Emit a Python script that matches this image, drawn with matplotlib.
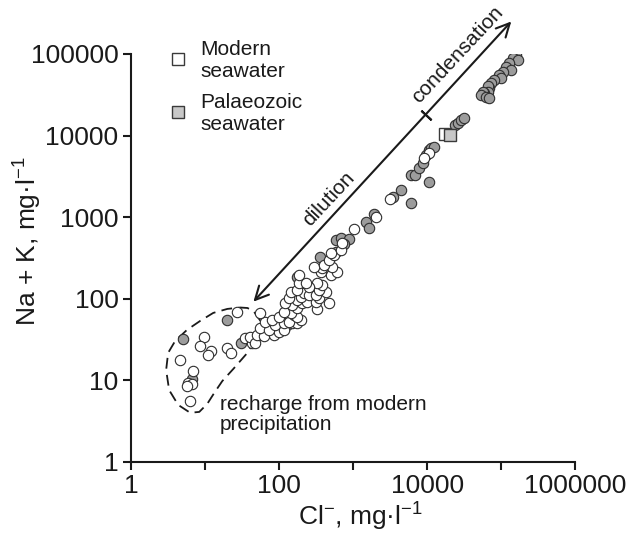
import matplotlib
matplotlib.use('Agg')
import matplotlib.pyplot as plt
from matplotlib.ticker import NullLocator

plt.rcParams['font.family'] = 'Liberation Sans'
plt.rcParams['mathtext.fontset'] = 'custom'
plt.rcParams['mathtext.rm'] = 'Liberation Sans'
plt.rcParams['mathtext.it'] = 'Liberation Sans:italic'

# white circles (Cl, Na+K in mg/l)
white_cl = [27.3, 9.75, 8.6, 12.1, 11, 4.6, 20, 22.3, 6.9, 5.9, 6.6, 5.65, 6.3,
            35, 43, 41, 53, 65.5, 110, 72.5, 129, 150, 176, 48, 50.5, 62, 56, 85,
            99, 116, 72.5, 89, 116, 135, 195, 158, 65.5, 80.7, 56, 99, 176, 143,
            116, 328, 176, 150, 122, 205, 240, 311, 345, 471, 176, 135, 195, 216,
            143, 253, 311, 425, 345, 176, 384, 328, 253, 185, 228, 185,
            497, 364, 600, 524, 384, 295, 403, 471, 551, 497, 679, 716, 1030,
            2020, 3160, 10700, 9160]
white_nak = [69, 34, 26, 22.9, 20.5, 17.8, 25, 21.7, 13, 9.3, 8.9, 8.5, 5.6,
             32.8, 29, 34.3, 36, 37.8, 43.5, 48, 48, 50, 50, 28.5, 36, 35, 43.5, 36,
             39.5, 41.5, 41.5, 48, 50, 52, 55, 63, 52, 55, 66, 60, 60, 66,
             69.5, 74, 77, 84, 88, 88, 92, 92, 101, 88, 97, 101, 106, 117,
             122, 111, 111, 122, 128, 128, 148, 155, 141, 155, 155, 196,
             196, 215, 215, 243, 236, 247, 260, 299, 344, 361, 396, 479, 716,
             1010, 1660, 6070, 5270]

# grey circles
grey_cl = [20, 5.07, 6.7, 31, 172, 356, 581, 581, 679, 880, 760, 1480, 1640, 1920,
           3410, 4420, 6030, 10700, 6030, 6830, 7820, 8690, 9640, 10700, 11250,
           12500, 23800, 25900, 28700, 31800, 159700, 144000, 168000, 129000,
           117000, 137000, 105000, 94800, 100000, 81100, 73100, 69400, 66000,
           66000, 59400, 56500, 53600, 62600, 69400]
grey_nak = [55, 32.2, 10.4, 28.5, 187, 328, 378, 526, 551, 536, 470, 881, 731, 1090,
            1780, 2150, 1510, 2720, 3300, 3250, 3970, 4660, 5780, 6660, 6980,
            7310, 13500, 14400, 15500, 16300, 97200, 88500, 84400, 76900,
            69900, 63700, 60700, 55300, 50400, 48000, 43800, 38000, 40300,
            34500, 33000, 34500, 31500, 30000, 28700]

# seawater squares: modern, palaeozoic
sea_cl = [17400, 20400]
sea_nak = [10300, 10100]
sea_labels = ['Modern\nseawater', 'Palaeozoic\nseawater']
sea_colors = ['white', '#c8c8c8']

# outline of the recharge field
env_cl = [56, 45, 37.3, 30, 20, 12.9, 8.6, 5.7, 3.95, 3.17, 2.98, 3.27, 4.33, 6.3,
          8.35, 10.7, 13.3, 17.1, 24.1, 37.3, 47.9, 56, 56]
env_nak = [53.5, 71, 77, 78, 75, 67, 53.5, 41.5, 30.4, 21.7, 13.4, 7.6, 5.0, 4.0,
           4.1, 5.14, 7.0, 9.8, 13.8, 21.7, 31.3, 41.5, 53.5]

arrow_start = (45, 92)
arrow_end = (137000, 250000)
arrow_mark = (9640, 17900)

fig = plt.figure(figsize=(6.3, 5.34), dpi=100)
ax = fig.add_axes([0.208, 0.135, 0.705, 0.764])
ax.set_xscale('log')
ax.set_yscale('log')
ax.set_xlim(1, 1e6)
ax.set_ylim(1, 1e5)

ax.plot(env_cl, env_nak, color='#1a1a1a', lw=1.3, ls=(0, (6, 3.5)), zorder=1)

ax.scatter(grey_cl, grey_nak, s=56, c='#9c9c9c', edgecolors='#2e2e2e', linewidths=0.8, zorder=3)
ax.scatter(white_cl, white_nak, s=56, c='white', edgecolors='#2e2e2e', linewidths=0.8, zorder=4)
for c, n, col in zip(sea_cl, sea_nak, sea_colors):
    ax.plot(c, n, marker='s', ms=8.6, mfc=col, mec='#3a3a3a', mew=1.0, zorder=5)

ax.annotate('', xy=arrow_end, xytext=arrow_start, annotation_clip=False,
            arrowprops=dict(arrowstyle='<->,head_length=0.48,head_width=0.24',
                            mutation_scale=20, lw=1.5, color='#1a1a1a',
                            shrinkA=0, shrinkB=0))
ax.plot(*arrow_mark, marker=(2, 2, 47), ms=10, mew=1.5, color='#1a1a1a', clip_on=False)
ax.text(26100, 97200, 'condensation', rotation=47, rotation_mode='anchor',
        ha='center', va='center', fontsize=15, color='#1a1a1a')
ax.text(467, 1670, 'dilution', rotation=47, rotation_mode='anchor',
        ha='center', va='center', fontsize=15, color='#1a1a1a')
ax.text(16, 6.6, 'recharge from modern\nprecipitation', ha='left', va='top',
        fontsize=15, linespacing=1.05, color='#1a1a1a')

# legend
leg_y = [0.988, 0.858]
for yy, lab, col in zip(leg_y, sea_labels, sea_colors):
    ax.plot(0.106, yy, marker='s', ms=8.6, mfc=col, mec='#3a3a3a', mew=1.0,
            transform=ax.transAxes, clip_on=False)
    ax.text(0.156, yy - 0.003, lab, transform=ax.transAxes, fontsize=15,
            ha='left', va='center', color='#1a1a1a')

ax.set_xticks([1, 10, 100, 1e3, 1e4, 1e5, 1e6])
ax.set_xticklabels(['1', '', '100', '', '10000', '', '1000000'])
ax.set_yticks([1, 10, 100, 1e3, 1e4, 1e5])
ax.set_yticklabels(['1', '10', '100', '1000', '10000', '100000'])
ax.xaxis.set_minor_locator(NullLocator())
ax.yaxis.set_minor_locator(NullLocator())
ax.tick_params(labelsize=19, length=6, width=1.5, pad=3, colors='#1a1a1a')

for s in ['top', 'right']:
    ax.spines[s].set_visible(False)
for s in ['left', 'bottom']:
    ax.spines[s].set_linewidth(1.5)
    ax.spines[s].set_color('#1a1a1a')

ax.set_xlabel('Cl$^{-}$, mg·l$^{-1}$', fontsize=19, color='#1a1a1a')
ax.set_ylabel('Na + K, mg·l$^{-1}$', fontsize=19, color='#1a1a1a')
ax.xaxis.set_label_coords(0.517, -0.095)
ax.yaxis.set_label_coords(-0.197, 0.54)

fig.savefig('out.png', dpi=100)
